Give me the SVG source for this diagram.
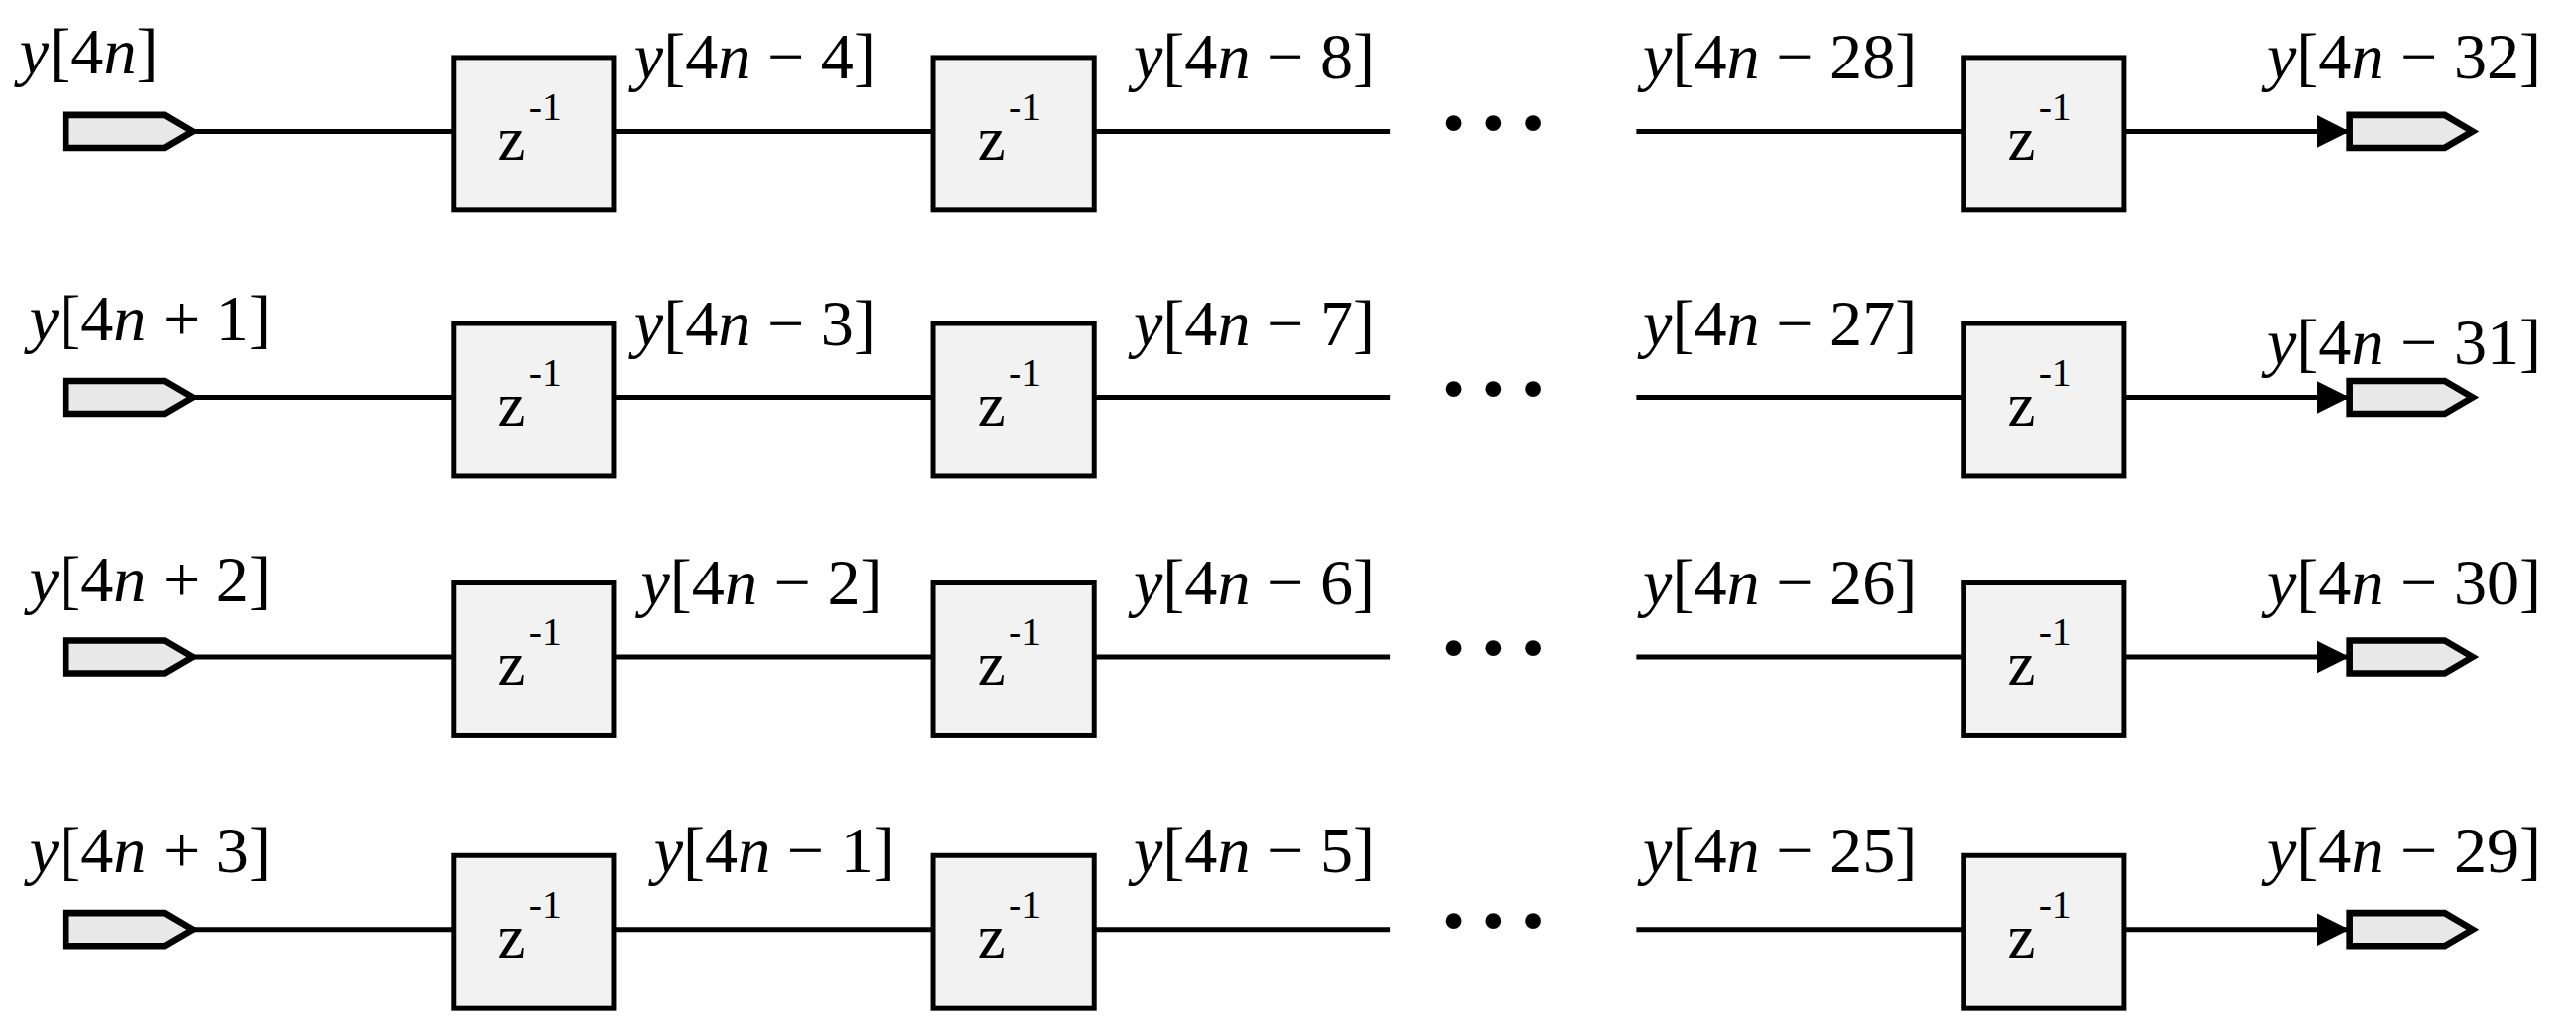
<svg xmlns="http://www.w3.org/2000/svg" width="2595" height="1036" viewBox="0 0 2595 1036">
<style>
.box{fill:#f2f2f2;stroke:#000;stroke-width:3}
.tag{fill:#e8e8e8;stroke:#000;stroke-width:4;stroke-linejoin:miter}
.ln{stroke:#000;stroke-width:3;fill:none}
.lb{font-family:"Liberation Serif",serif;font-size:40px}
.z{font-family:"Liberation Serif",serif;font-size:38px}
.sup{font-family:"Liberation Serif",serif;font-size:24px}
.dots{font-family:"Liberation Serif",serif;font-size:40px}
</style>
<defs>
<marker id="ah" markerWidth="8" markerHeight="8" refX="7" refY="4" orient="auto" markerUnits="userSpaceOnUse" viewBox="0 0 8 8">
<path d="M0,0 L8,4 L0,8 z" fill="#000"/>
</marker>
<marker id="a" viewBox="0 0 20 20" refX="20" refY="10" markerWidth="20" markerHeight="20" markerUnits="userSpaceOnUse" orient="auto"><path d="M0,0 L20,10 L0,20 z" fill="#000"/></marker>
<g id="row">
<polygon class="tag" points="40,-10 100,-10 117,0 100,10 40,10"/>
<rect class="box" x="276" y="-45" width="98" height="93"/>
<text class="z" x="303" y="17">z<tspan class="sup" dx="2" dy="-24">-1</tspan></text>
<rect class="box" x="568" y="-45" width="98" height="93"/>
<text class="z" x="595" y="17">z<tspan class="sup" dx="2" dy="-24">-1</tspan></text>
<rect class="box" x="1195" y="-45" width="98" height="93"/>
<text class="z" x="1222" y="17">z<tspan class="sup" dx="2" dy="-24">-1</tspan></text>
<polygon class="tag" points="1430,-10 1488,-10 1505,0 1488,10 1430,10"/>
<text class="dots" x="878" y="8">• • •</text>
</g>
</defs>
<g transform="scale(1.655)">
<g id="nodes">
<g id="row1"><use href="#row" y="80"/></g>
<g id="row2"><use href="#row" y="242"/></g>
<g id="row3"><use href="#row" y="400"/></g>
<g id="row4"><use href="#row" y="566"/></g>
</g>
<g id="connectors">
<path class="ln" marker-end="url(#a)" d="M117,80H276 M374,80H568 M666,80H846 M996,80H1195 M1293,80H1430"/>
<path class="ln" marker-end="url(#a)" d="M117,242H276 M374,242H568 M666,242H846 M996,242H1195 M1293,242H1430"/>
<path class="ln" marker-end="url(#a)" d="M117,400H276 M374,400H568 M666,400H846 M996,400H1195 M1293,400H1430"/>
<path class="ln" marker-end="url(#a)" d="M117,566H276 M374,566H568 M666,566H846 M996,566H1195 M1293,566H1430"/>
</g>
<g id="labels" class="lb">
<text x="12" y="45"><tspan font-style="italic">y</tspan>[4<tspan font-style="italic">n</tspan>]</text>
<text x="386" y="48"><tspan font-style="italic">y</tspan>[4<tspan font-style="italic">n</tspan> − 4]</text>
<text x="690" y="48"><tspan font-style="italic">y</tspan>[4<tspan font-style="italic">n</tspan> − 8]</text>
<text x="1000" y="48"><tspan font-style="italic">y</tspan>[4<tspan font-style="italic">n</tspan> − 28]</text>
<text x="1380" y="48"><tspan font-style="italic">y</tspan>[4<tspan font-style="italic">n</tspan> − 32]</text>

<text x="18" y="207"><tspan font-style="italic">y</tspan>[4<tspan font-style="italic">n</tspan> + 1]</text>
<text x="386" y="210"><tspan font-style="italic">y</tspan>[4<tspan font-style="italic">n</tspan> − 3]</text>
<text x="690" y="210"><tspan font-style="italic">y</tspan>[4<tspan font-style="italic">n</tspan> − 7]</text>
<text x="1000" y="210"><tspan font-style="italic">y</tspan>[4<tspan font-style="italic">n</tspan> − 27]</text>
<text x="1380" y="222"><tspan font-style="italic">y</tspan>[4<tspan font-style="italic">n</tspan> − 31]</text>

<text x="18" y="366"><tspan font-style="italic">y</tspan>[4<tspan font-style="italic">n</tspan> + 2]</text>
<text x="390" y="368"><tspan font-style="italic">y</tspan>[4<tspan font-style="italic">n</tspan> − 2]</text>
<text x="690" y="368"><tspan font-style="italic">y</tspan>[4<tspan font-style="italic">n</tspan> − 6]</text>
<text x="1000" y="368"><tspan font-style="italic">y</tspan>[4<tspan font-style="italic">n</tspan> − 26]</text>
<text x="1380" y="368"><tspan font-style="italic">y</tspan>[4<tspan font-style="italic">n</tspan> − 30]</text>

<text x="18" y="531"><tspan font-style="italic">y</tspan>[4<tspan font-style="italic">n</tspan> + 3]</text>
<text x="398" y="531"><tspan font-style="italic">y</tspan>[4<tspan font-style="italic">n</tspan> − 1]</text>
<text x="690" y="531"><tspan font-style="italic">y</tspan>[4<tspan font-style="italic">n</tspan> − 5]</text>
<text x="1000" y="531"><tspan font-style="italic">y</tspan>[4<tspan font-style="italic">n</tspan> − 25]</text>
<text x="1380" y="531"><tspan font-style="italic">y</tspan>[4<tspan font-style="italic">n</tspan> − 29]</text>
</g>
</g>
</svg>
